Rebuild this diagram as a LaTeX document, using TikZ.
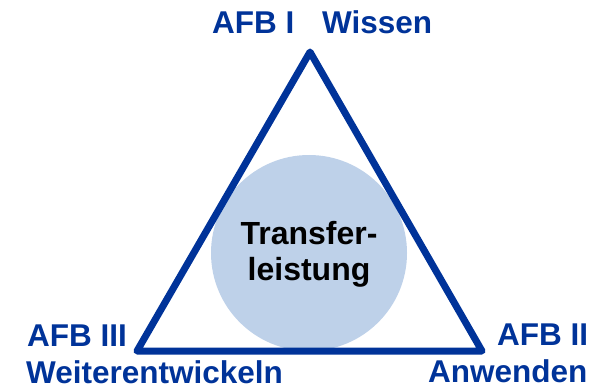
\documentclass[tikz,border=0pt]{standalone}
\usepackage{fontspec}
\setmainfont{Liberation Sans}
\definecolor{afbblue}{HTML}{003399}
\definecolor{circfill}{HTML}{BED1E9}
\begin{document}
\begin{tikzpicture}[x=1pt,y=-1pt,
  lbl/.style={inner sep=0pt,anchor=base west,text=afbblue,font=\fontsize{31.5}{36}\selectfont\bfseries},
  tri/.style={draw=afbblue,line width=7pt,line join=round}]
\useasboundingbox (0,0) rectangle (604,390);
\node[circle,fill=circfill,minimum size=196pt,inner sep=0pt] (circ) at (309,253) {};
\coordinate (apex) at (310,52);
\coordinate (bl) at (137,351);
\coordinate (br) at (482,351);
\draw[tri] (apex) -- (bl) -- (br) -- cycle;
\node[inner sep=0pt,align=center,font=\fontsize{32}{36}\selectfont\bfseries] (txt) at (309,254) {Transfer-\\leistung};
\node[lbl] (afb1) at (212,34) {AFB I};
\node[lbl] (wissen) at (322,34) {Wissen};
\node[lbl] (afb3) at (27,346) {AFB III};
\node[lbl] (weiter) at (26,383.5) {Weiterentwickeln};
\node[lbl] (afb2) at (497,345) {AFB II};
\node[lbl] (anw) at (428,382) {Anwenden};
\end{tikzpicture}
\end{document}
